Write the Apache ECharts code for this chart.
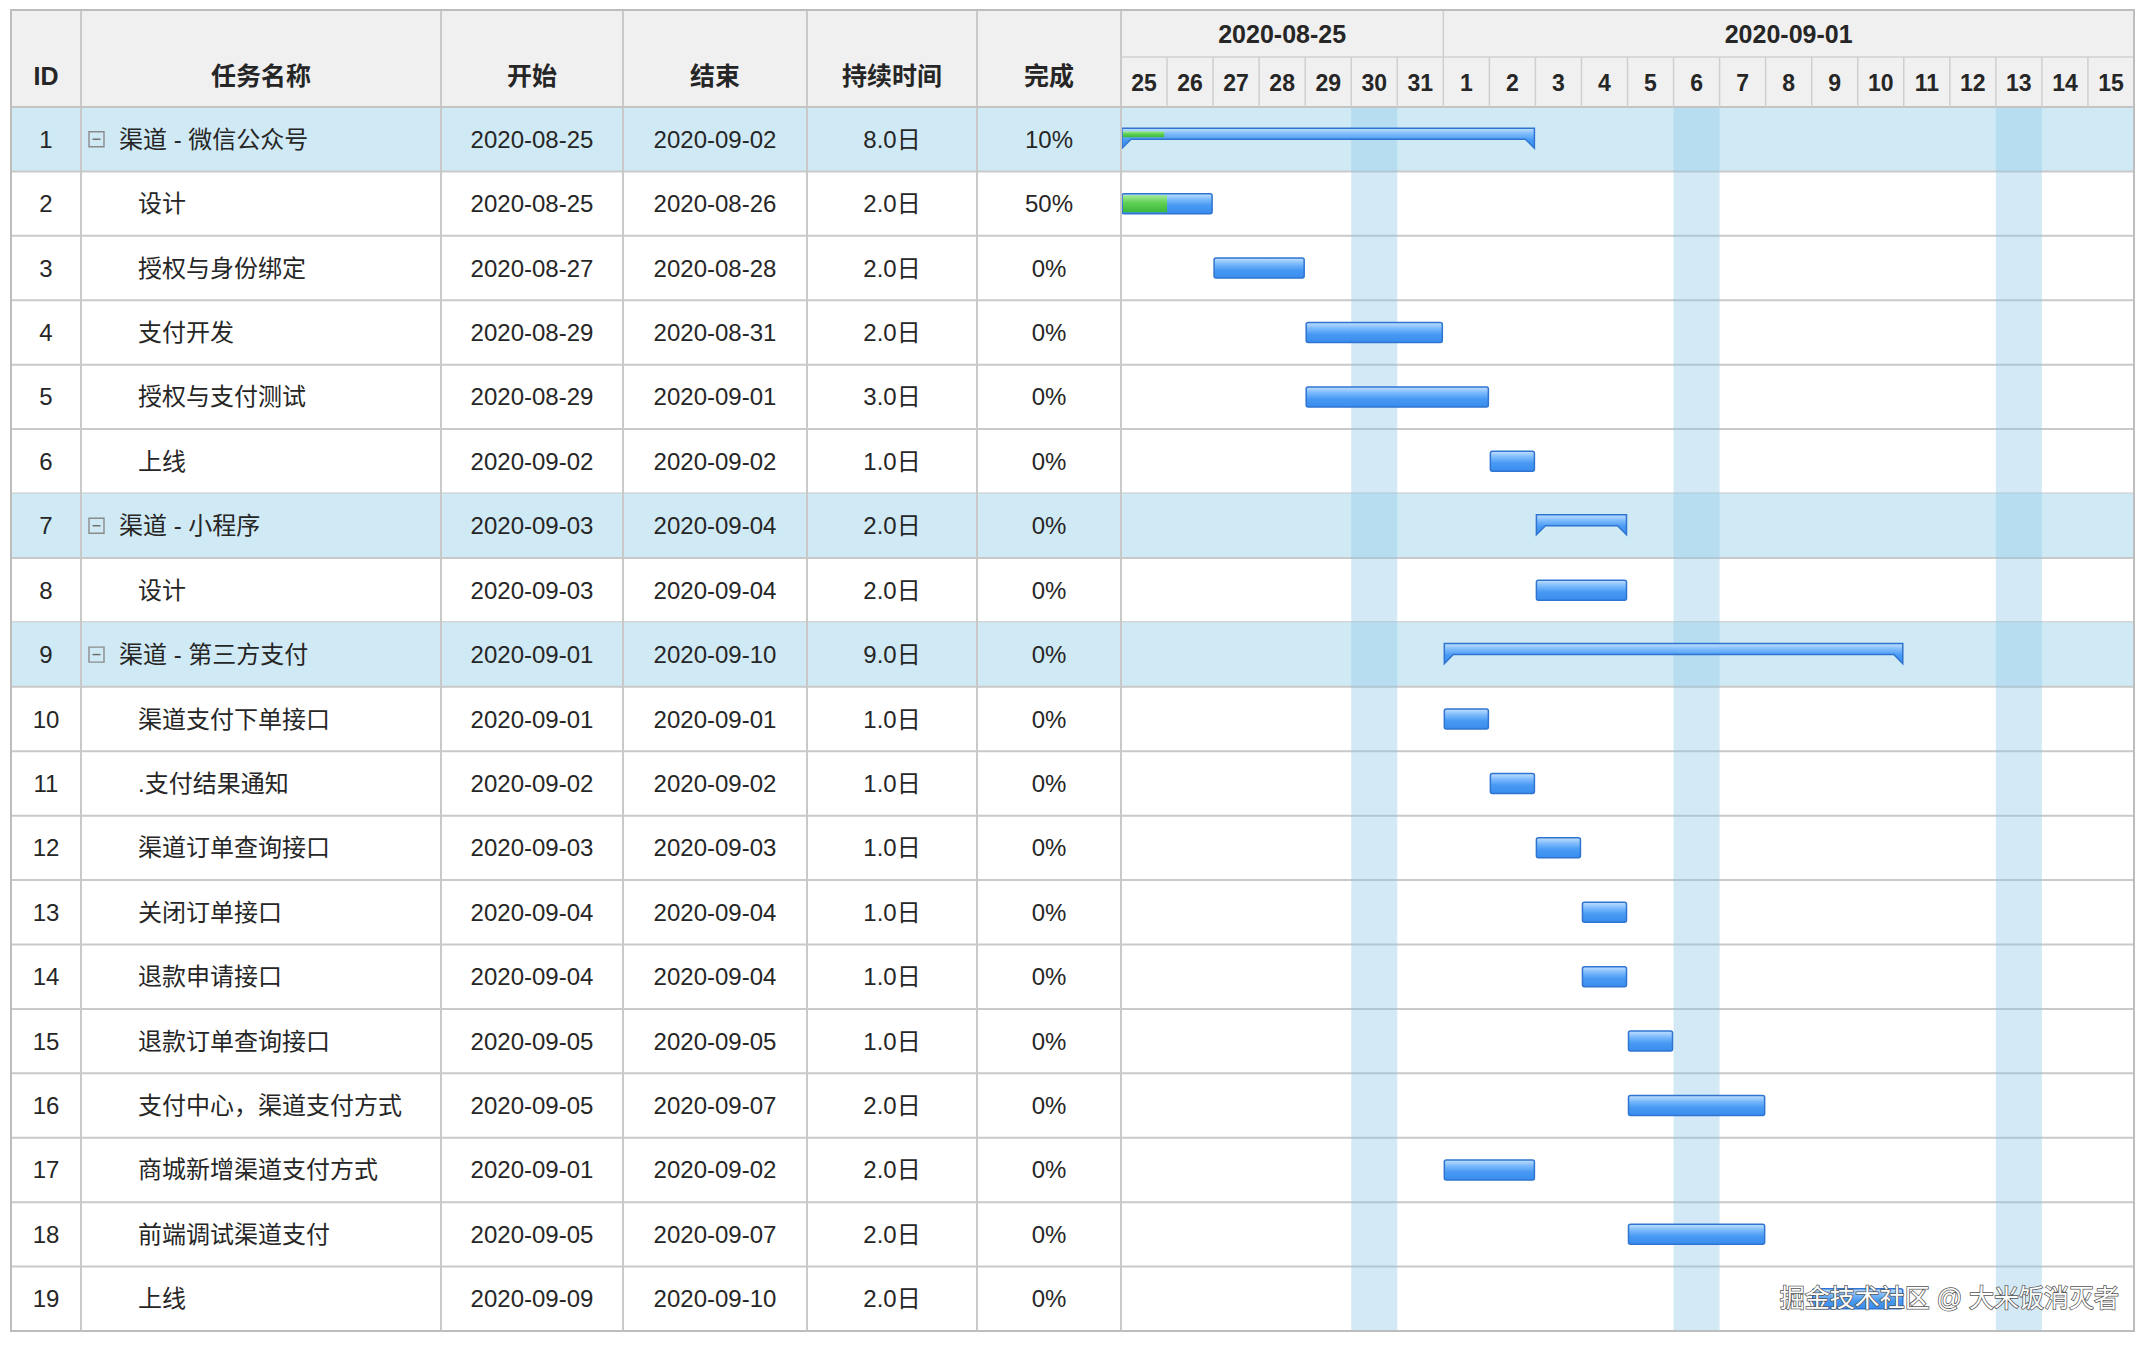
<!DOCTYPE html>
<html>
<head>
<meta charset="utf-8">
<style>
  html, body { margin: 0; padding: 0; background: #ffffff; }
  #chart { width: 2152px; height: 1348px; }
</style>
<script src="https://cdn.jsdelivr.net/npm/echarts@6/dist/echarts.min.js"></script>
</head>
<body>
<div id="chart"></div>
<script>
// ---------------- DATA ----------------
const taskIds = [1, 2, 3, 4, 5, 6, 7, 8, 9, 10, 11, 12, 13, 14, 15, 16, 17, 18, 19];
const taskNames = [
  '渠道 - 微信公众号', '设计', '授权与身份绑定', '支付开发', '授权与支付测试', '上线',
  '渠道 - 小程序', '设计',
  '渠道 - 第三方支付', '渠道支付下单接口', '.支付结果通知', '渠道订单查询接口', '关闭订单接口',
  '退款申请接口', '退款订单查询接口', '支付中心，渠道支付方式', '商城新增渠道支付方式',
  '前端调试渠道支付', '上线'
];
const startDates = [
  '2020-08-25', '2020-08-25', '2020-08-27', '2020-08-29', '2020-08-29', '2020-09-02',
  '2020-09-03', '2020-09-03',
  '2020-09-01', '2020-09-01', '2020-09-02', '2020-09-03', '2020-09-04',
  '2020-09-04', '2020-09-05', '2020-09-05', '2020-09-01', '2020-09-05', '2020-09-09'
];
const endDates = [
  '2020-09-02', '2020-08-26', '2020-08-28', '2020-08-31', '2020-09-01', '2020-09-02',
  '2020-09-04', '2020-09-04',
  '2020-09-10', '2020-09-01', '2020-09-02', '2020-09-03', '2020-09-04',
  '2020-09-04', '2020-09-05', '2020-09-07', '2020-09-02', '2020-09-07', '2020-09-10'
];
const durationDays = [8, 2, 2, 2, 3, 1, 2, 2, 9, 1, 1, 1, 1, 1, 1, 2, 2, 2, 2];
const donePct = [10, 50, 0, 0, 0, 0, 0, 0, 0, 0, 0, 0, 0, 0, 0, 0, 0, 0, 0];
const summaryIds = [1, 7, 9];
const columnTitles = ['ID', '任务名称', '开始', '结束', '持续时间', '完成'];
const timelineStart = '2020-08-25';
const weekLabels = ['2020-08-25', '2020-09-01'];
const dayLabels = ['25', '26', '27', '28', '29', '30', '31', '1', '2', '3', '4', '5', '6', '7', '8', '9', '10', '11', '12', '13', '14', '15'];
const restDays = ['2020-08-30', '2020-09-06', '2020-09-13'];
const watermark = '掘金技术社区 @ 大米饭消灭者';

// ---------------- LAYOUT ----------------
const L = 11, T = 10, R = 2134, B = 1331, HB = 107, HM = 57, G = 1121;
const colEdges = [11, 81, 441, 623, 807, 977, 1121];
const FONT = "'Liberation Sans','Noto Sans CJK SC',sans-serif";
const TXT = '#262626';
const LINE = '#c9c9c9';

function dayIdx(s) {
  const p = s.split('-').map(Number);
  const b = timelineStart.split('-').map(Number);
  return (Date.UTC(p[0], p[1] - 1, p[2]) - Date.UTC(b[0], b[1] - 1, b[2])) / 86400000;
}
const nDays = dayLabels.length;

function txt(text, x, y, font, align, fill) {
  return {
    type: 'text',
    style: {
      text: text, x: x, y: y, font: font, fill: fill || TXT,
      align: align || 'center', textAlign: align || 'center',
      verticalAlign: 'middle', textVerticalAlign: 'middle'
    }
  };
}

const blueGrad = () => new echarts.graphic.LinearGradient(0, 0, 0, 1, [
  { offset: 0, color: '#c2e0ff' },
  { offset: 0.3, color: '#7ab9fc' },
  { offset: 0.6, color: '#4799f3' },
  { offset: 1, color: '#3a8dee' }
]);
const greenGrad = () => new echarts.graphic.LinearGradient(0, 0, 0, 1, [
  { offset: 0, color: '#a5eb9b' },
  { offset: 0.45, color: '#5fd155' },
  { offset: 1, color: '#3cb83a' }
]);

const rowCats = taskIds.map(String);
const taskData = taskIds.map((id, i) => [
  i, dayIdx(startDates[i]), dayIdx(endDates[i]) + 1, donePct[i], summaryIds.indexOf(id) >= 0 ? 1 : 0
]);
const weekData = weekLabels.map((w, k) => [
  dayIdx(w), k + 1 < weekLabels.length ? dayIdx(weekLabels[k + 1]) : nDays
]);

const chart = echarts.init(document.getElementById('chart'), null, { renderer: 'svg', width: 2152, height: 1348 });

const option = {
  backgroundColor: '#ffffff',
  animation: false,
  grid: [
    { left: colEdges[0], top: HB, width: G - colEdges[0], height: B - HB },
    { left: G, top: HB, width: R - G, height: B - HB }
  ],
  xAxis: [
    { gridIndex: 0, type: 'value', min: 0, max: 1, show: false },
    { gridIndex: 1, type: 'value', min: 0, max: nDays, show: false }
  ],
  yAxis: [
    { gridIndex: 0, type: 'category', data: rowCats, inverse: true, show: false },
    { gridIndex: 1, type: 'category', data: rowCats, inverse: true, show: false }
  ],
  graphic: [
    { type: 'rect', z: 0, silent: true, shape: { x: L, y: T, width: R - L, height: HB - T }, style: { fill: '#f0f0f0' } },
    ...colEdges.slice(1).map(x => ({ type: 'line', z: 6, silent: true, shape: { x1: x, y1: T, x2: x, y2: B }, style: { stroke: LINE, lineWidth: 2 } })),
    { type: 'line', z: 6, silent: true, shape: { x1: L, y1: HB, x2: R, y2: HB }, style: { stroke: '#c4c4c4', lineWidth: 2 } },
    { type: 'line', z: 6, silent: true, shape: { x1: G, y1: HM, x2: R, y2: HM }, style: { stroke: '#d2d2d2', lineWidth: 1.5 } },
    { type: 'rect', z: 7, silent: true, shape: { x: L, y: T, width: R - L, height: B - T }, style: { fill: 'none', stroke: '#bdbdbd', lineWidth: 2 } },
    ...columnTitles.map((t, k) => ({
      type: 'text', z: 8, silent: true,
      style: {
        text: t, x: (colEdges[k] + colEdges[k + 1]) / 2, y: 76,
        font: 'bold 25px ' + FONT, fill: TXT, align: 'center', textAlign: 'center',
        verticalAlign: 'middle', textVerticalAlign: 'middle'
      }
    })),
    {
      type: 'text', z: 30, silent: true,
      style: {
        text: watermark, x: 2119, y: 1298, font: '25px ' + FONT,
        fill: '#ffffff', stroke: '#555555', lineWidth: 1.5,
        align: 'right', textAlign: 'right', verticalAlign: 'middle', textVerticalAlign: 'middle'
      }
    }
  ],
  series: [
    // row backgrounds + row lines
    {
      type: 'custom', xAxisIndex: 1, yAxisIndex: 1, z: 1, silent: true, clip: false,
      encode: { x: 1, y: 0 },
      data: taskData.map(d => [d[0], 0, d[4]]),
      renderItem: function (params, api) {
        const i = api.value(0);
        const c = api.coord([0, i]);
        const h = api.size([0, 1])[1];
        const top = c[1] - h / 2;
        const children = [];
        if (api.value(2) === 1) {
          children.push({ type: 'rect', shape: { x: L, y: top, width: R - L, height: h }, style: { fill: '#d0eaf5' } });
        }
        children.push({ type: 'line', shape: { x1: L, y1: top + h, x2: R, y2: top + h }, style: { stroke: LINE, lineWidth: 2 } });
        return { type: 'group', children: children };
      }
    },
    // rest-day shading
    {
      type: 'custom', xAxisIndex: 1, yAxisIndex: 1, z: 2, silent: true, clip: false,
      encode: { x: [0, 1] },
      data: restDays.map(d => [dayIdx(d), dayIdx(d) + 1]),
      renderItem: function (params, api) {
        const cs = params.coordSys;
        const x0 = api.coord([api.value(0), 0])[0];
        const x1 = api.coord([api.value(1), 0])[0];
        return { type: 'rect', shape: { x: x0, y: cs.y, width: x1 - x0, height: cs.height }, style: { fill: 'rgba(140,200,232,0.38)' } };
      }
    },
    // day header
    {
      type: 'custom', xAxisIndex: 1, yAxisIndex: 1, z: 6, silent: true, clip: false,
      encode: { x: [0, 1] },
      data: dayLabels.map((l, k) => [k, k + 1]),
      renderItem: function (params, api) {
        const k = api.value(0);
        const x0 = api.coord([k, 0])[0];
        const x1 = api.coord([api.value(1), 0])[0];
        const children = [txt(dayLabels[k], (x0 + x1) / 2, 83, 'bold 23px ' + FONT)];
        if (k > 0) children.push({ type: 'line', shape: { x1: x0, y1: HM, x2: x0, y2: HB }, style: { stroke: '#cfcfcf', lineWidth: 1.5 } });
        return { type: 'group', children: children };
      }
    },
    // week header
    {
      type: 'custom', xAxisIndex: 1, yAxisIndex: 1, z: 6, silent: true, clip: false,
      encode: { x: [0, 1] },
      data: weekData,
      renderItem: function (params, api) {
        const x0 = api.coord([api.value(0), 0])[0];
        const x1 = api.coord([api.value(1), 0])[0];
        const children = [txt(weekLabels[params.dataIndex], (x0 + x1) / 2, 34, 'bold 25px ' + FONT)];
        if (api.value(0) > 0) children.push({ type: 'line', shape: { x1: x0, y1: T, x2: x0, y2: HM }, style: { stroke: '#cfcfcf', lineWidth: 1.5 } });
        return { type: 'group', children: children };
      }
    },
    // task bars
    {
      type: 'custom', xAxisIndex: 1, yAxisIndex: 1, z: 5, silent: true, clip: false,
      encode: { x: [1, 2], y: 0 },
      data: taskData,
      renderItem: function (params, api) {
        const i = api.value(0);
        const p0 = api.coord([api.value(1), i]);
        const p1 = api.coord([api.value(2), i]);
        const x0 = p0[0] + 1, x1 = p1[0] - 1, cy = p0[1];
        const pct = api.value(3) / 100;
        const children = [];
        if (api.value(4) === 1) {
          children.push({
            type: 'polygon',
            shape: { points: [[x0, cy - 11], [x1, cy - 11], [x1, cy + 9], [x1 - 9, cy], [x0 + 9, cy], [x0, cy + 9]] },
            style: { fill: blueGrad(), stroke: '#2f74d0', lineWidth: 1.5 }
          });
          if (pct > 0) children.push({ type: 'rect', shape: { x: x0 + 1, y: cy - 8, width: (x1 - x0) * pct, height: 6 }, style: { fill: greenGrad() } });
        } else {
          children.push({
            type: 'rect', shape: { x: x0, y: cy - 10, width: x1 - x0, height: 20, r: 2 },
            style: { fill: blueGrad(), stroke: '#2f74d0', lineWidth: 1.5 }
          });
          if (pct > 0) children.push({ type: 'rect', shape: { x: x0 + 1, y: cy - 8.5, width: (x1 - x0 - 2) * pct, height: 17 }, style: { fill: greenGrad() } });
        }
        return { type: 'group', children: children };
      }
    },
    // table cells
    {
      type: 'custom', xAxisIndex: 0, yAxisIndex: 0, z: 8, silent: true, clip: false,
      encode: { x: 0, y: 1 },
      data: taskIds.map((id, i) => [0, i]),
      renderItem: function (params, api) {
        const i = api.value(1);
        const cy = api.coord([0, i])[1];
        const f = '24px ' + FONT;
        const mid = k => (colEdges[k] + colEdges[k + 1]) / 2;
        const isSum = summaryIds.indexOf(taskIds[i]) >= 0;
        const children = [
          txt(String(taskIds[i]), mid(0), cy, f),
          txt(startDates[i], mid(2), cy, f),
          txt(endDates[i], mid(3), cy, f),
          txt(durationDays[i].toFixed(1) + '日', mid(4), cy, f),
          txt(donePct[i] + '%', mid(5), cy, f)
        ];
        if (isSum) {
          children.push({ type: 'rect', shape: { x: 89, y: cy - 7.5, width: 15, height: 15 }, style: { fill: 'none', stroke: '#8a8a8a', lineWidth: 1.4 } });
          children.push({ type: 'line', shape: { x1: 92.5, y1: cy, x2: 100.5, y2: cy }, style: { stroke: '#6a6a6a', lineWidth: 1.4 } });
          children.push(txt(taskNames[i], 119, cy, f, 'left'));
        } else {
          children.push(txt(taskNames[i], 138, cy, f, 'left'));
        }
        return { type: 'group', children: children };
      }
    }
  ]
};
chart.setOption(option);
</script>
</body>
</html>
